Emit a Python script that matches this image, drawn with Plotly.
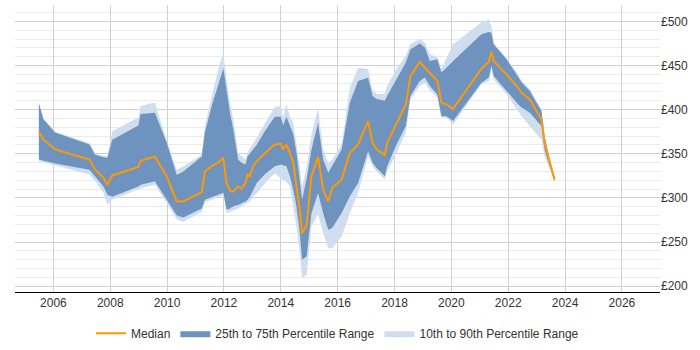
import plotly.graph_objects as go

# decimal-year time points
years = [2005.49, 2005.65, 2006.06, 2007.27, 2007.47, 2007.76, 2007.90, 2008.07, 2008.99, 2009.07,
         2009.57, 2009.99, 2010.34, 2010.57, 2011.22, 2011.33, 2011.57, 2011.80, 2011.98, 2012.09,
         2012.21, 2012.33, 2012.50, 2012.62, 2012.76, 2012.83, 2012.91, 2013.03, 2013.15, 2013.45,
         2013.79, 2014.00, 2014.08, 2014.20, 2014.32, 2014.44, 2014.55, 2014.67, 2014.75, 2014.91,
         2015.08, 2015.31, 2015.49, 2015.67, 2015.81, 2016.14, 2016.43, 2016.72, 2017.07, 2017.23,
         2017.37, 2017.66, 2017.74, 2018.07, 2018.40, 2018.56, 2018.89, 2019.07, 2019.24, 2019.51,
         2019.65, 2019.83, 2020.06, 2021.06, 2021.32, 2021.41, 2021.49, 2021.94, 2022.35, 2022.47,
         2022.76, 2023.17, 2023.28, 2023.46, 2023.63]

median = [375, 366, 355, 343.5, 332, 323, 315, 325.5, 335, 342,
          347, 324.5, 296, 296, 306.5, 330, 336, 340, 345.5, 317,
          308.5, 307.5, 313, 310.5, 317, 326.5, 324.5, 336, 341.5, 351,
          360.5, 361.5, 355, 360.5, 351, 340, 313, 286.5, 260, 269.5,
          324.5, 347, 309.5, 296, 311.5, 321, 351, 360.5, 387, 362.5,
          355, 348.5, 362.5, 385, 406, 438, 454, 447.5, 442, 432.5,
          408, 406, 401, 446.5, 454, 465.5, 455, 440, 425, 419,
          411.5, 389, 362.5, 340, 321]

p25 = [343.5, 342, 339, 332, 324.5, 313, 303.5, 301.5, 313, 315,
       319, 298, 280, 278, 288, 298, 301, 304, 306, 287,
       288, 290.5, 292, 294, 296, 298, 301, 309, 317, 327,
       336, 338, 337, 336, 324.5, 309, 290.5, 260, 230, 234,
       283, 305.5, 283, 264, 266, 283, 302, 317, 353, 340,
       334, 324.5, 336, 360.5, 381.5, 415.5, 432.5, 436.5, 427, 417,
       392.5, 392.5, 387, 430.5, 436.5, 450, 438, 421, 406, 402.5,
       396.5, 381.5, 355, 336, 319]

p75 = [407, 389, 374, 360.5, 349, 346, 345.5, 366, 382, 395,
       396.5, 362.5, 326, 330, 347, 374, 404, 427, 447, 423,
       397, 377.5, 343.5, 340, 338, 347, 350, 355, 360, 376,
       392, 392, 382, 392, 383, 372, 352, 320, 298, 322,
       355, 385, 343.5, 328.5, 336, 355, 408, 432.5, 436, 415.5,
       412, 410, 415.5, 434.5, 453.5, 468.5, 475, 470.5, 455, 457,
       442, 447.5, 455, 485.5, 488, 487, 474, 457, 438, 431,
       421, 398.5, 370, 343, 323]

p10 = [341.5, 340, 337, 326.5, 319, 306, 292.5, 298, 309.5, 311,
       315, 294.5, 276, 273, 284, 295, 298, 301, 303, 283,
       284, 286, 288, 290.5, 293, 294, 296, 302, 305, 317,
       328, 322, 320, 318, 313, 290.5, 268, 237.5, 209, 213,
       268, 282, 260, 243, 243, 256, 283, 305.5, 347, 336,
       330, 321, 330, 351, 374, 411.5, 427, 430.5, 422, 413.5,
       391, 391, 383, 429, 432.5, 446, 434, 417.5, 398.5, 392.5,
       381.5, 366, 347, 333, 317.5]

p90 = [408, 390, 375, 362, 350, 347.5, 347, 375.5, 391, 404,
       408, 364.5, 332, 336, 349, 381.5, 415.5, 446, 465, 434,
       408, 389, 351, 347, 343.5, 352, 356, 362.5, 368, 385,
       403, 404, 391, 406, 392.5, 385, 362, 335, 313, 335,
       372, 402, 355, 340, 343.5, 360.5, 425, 447.5, 446, 422,
       418, 418, 427, 446, 461, 474, 480, 476, 463, 459,
       446, 459, 474, 499, 502, 495, 475, 458.5, 440, 432.5,
       423, 400, 371, 344, 324]

x_ticks = [2006, 2008, 2010, 2012, 2014, 2016, 2018, 2020, 2022, 2024, 2026]
y_ticks = [200, 250, 300, 350, 400, 450, 500]
y_tick_labels = ["£" + str(v) for v in y_ticks]

DARK = "rgb(110,147,190)"
LIGHT = "rgb(206,222,238)"
ORANGE = "rgb(255,153,0)"

fig = go.Figure()

# 10th-90th band
fig.add_trace(go.Scatter(x=years, y=p10, mode="lines", line=dict(width=0, color=LIGHT),
                         showlegend=False, hoverinfo="skip"))
fig.add_trace(go.Scatter(x=years, y=p90, mode="lines", line=dict(width=0, color=LIGHT),
                         fill="tonexty", fillcolor=LIGHT, name="10th to 90th Percentile Range",
                         legendrank=3))
# 25th-75th band
fig.add_trace(go.Scatter(x=years, y=p25, mode="lines", line=dict(width=0, color=DARK),
                         showlegend=False, hoverinfo="skip"))
fig.add_trace(go.Scatter(x=years, y=p75, mode="lines", line=dict(width=0, color=DARK),
                         fill="tonexty", fillcolor=DARK, name="25th to 75th Percentile Range",
                         legendrank=2))
# median
fig.add_trace(go.Scatter(x=years, y=median, mode="lines", line=dict(width=2, color=ORANGE),
                         name="Median", legendrank=1))

fig.update_layout(
    width=700, height=350,
    margin=dict(l=15, r=40, t=5, b=58),
    paper_bgcolor="white", plot_bgcolor="white",
    font=dict(family="Liberation Sans, Arial, sans-serif", size=12, color="#333333"),
    showlegend=True,
    legend=dict(orientation="h", x=0.5, xanchor="center", y=0.048, yref="container",
                yanchor="middle", font=dict(size=12, color="#333333"),
                traceorder="normal", itemwidth=30, tracegroupgap=0),
    xaxis=dict(range=[2004.65, 2027.34], tickmode="array", tickvals=x_ticks,
               ticktext=[str(t) for t in x_ticks],
               showgrid=True, gridcolor="#d0d0d0", gridwidth=1,
               showline=True, linecolor="#000000", linewidth=1,
               ticks="", zeroline=False, fixedrange=True),
    yaxis=dict(range=[193.5, 518.5], side="right", tickmode="array", tickvals=y_ticks,
               ticktext=y_tick_labels, showgrid=True, gridcolor="#d0d0d0", gridwidth=1,
               minor=dict(dtick=10, tick0=200, showgrid=True, gridcolor="#ebebeb", gridwidth=1),
               showline=False, zeroline=False, ticks="", fixedrange=True),
)

fig.write_html("out.html")
